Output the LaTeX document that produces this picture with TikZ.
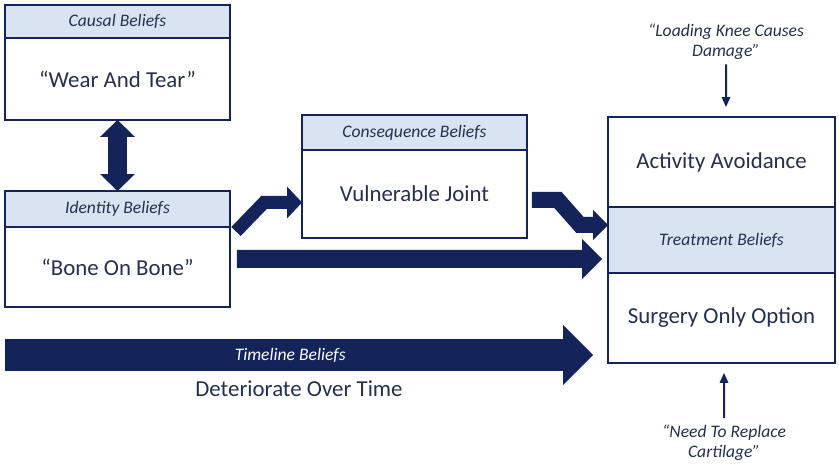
\documentclass[tikz,border=0pt]{standalone}
\usepackage{fontspec}
\setmainfont{Carlito}
\usetikzlibrary{positioning, arrows.meta, calc}
\definecolor{navy}{HTML}{15235B}
\definecolor{inkblue}{HTML}{25304F}
\definecolor{headblue}{HTML}{DAE3F1}

\begin{document}
\begin{tikzpicture}[x=0.02cm, y=-0.02cm, node distance=0pt,
    every node/.style={text=inkblue},
    box/.style={draw=navy, line width=0.055cm, minimum width=4.5cm,
      inner sep=0pt, outer sep=0pt, font=\fontsize{13}{15}\selectfont},
    header/.style={box, fill=headblue, font=\fontsize{10}{12}\selectfont\itshape},
    blockarrow/.style n args={3}{draw=navy, line width=#1,
      -{Triangle[width=#2, length=#3, line width=0pt]}},
    pointer/.style={draw=navy, line width=0.04cm,
      -{Triangle[width=0.18cm, length=0.2cm, line width=0pt]}},
    note/.style={font=\fontsize{10}{11.5}\selectfont\itshape, align=center,
      inner sep=0pt}]

  \useasboundingbox (0,0) rectangle (839,465);

  % Cajas de creencias
  \node[header, minimum height=0.66cm] (causehead) at (117.5,21.5) {Causal Beliefs};
  \node[box, minimum height=1.64cm, below=of causehead] (causebody) {“Wear And Tear”};

  \node[header, minimum height=0.72cm] (idhead) at (117.5,209) {Identity Beliefs};
  \node[box, minimum height=1.6cm, below=of idhead] (idbody) {“Bone On Bone”};

  \node[header, minimum height=0.7cm] (conshead) at (414.5,132.5) {Consequence Beliefs};
  \node[box, minimum height=1.76cm, below=of conshead] (consbody) {Vulnerable Joint};

  \node[box, minimum width=4.54cm, minimum height=1.8cm] (act) at (721.5,162) {Activity Avoidance};
  \node[header, minimum width=4.54cm, minimum height=1.32cm, below=of act] (treathead) {Treatment Beliefs};
  \node[box, minimum width=4.54cm, minimum height=1.8cm, below=of treathead] (surg) {Surgery Only Option};

  % Notas
  \node[note] (load) at (726,42) {“Loading Knee Causes\\Damage”};
  \node[note] (need) at (724,442.5) {“Need To Replace\\Cartilage”};
  \node[font=\fontsize{13}{15}\selectfont] (deter) at (299,389) {Deteriorate Over Time};

  % Flechas
  \draw[draw=navy, line width=0.4cm,
    {Triangle[width=0.7cm, length=0.34cm, line width=0pt]}-{Triangle[width=0.7cm, length=0.34cm, line width=0pt]}]
    (causebody.south) -- (idhead.north);
  \draw[blockarrow={0.26cm}{0.64cm}{0.3cm}]
    ($(idhead.east)+(6,22.5)$) -- ++(28,-29) -- ($(consbody.west)+(0,8.5)$);
  \draw[blockarrow={0.32cm}{0.6cm}{0.3cm}]
    ($(consbody.east)+(5,6)$) -- ++(26,0) -- ++(22,25) -- ($(treathead.north west)+(0,18)$);
  \draw[blockarrow={0.36cm}{0.8cm}{0.4cm}]
    ($(idbody.east)+(7,-8)$) -- ($(treathead.west)+(-6,19)$);

  \coordinate (tlstart) at (5,355);
  \coordinate (tlend) at (593,355);
  \draw[blockarrow={0.64cm}{1.2cm}{0.6cm}] (tlstart) -- (tlend)
    node[pos=0.485, text=white, font=\fontsize{10}{12}\selectfont\itshape] (tltext) {Timeline Beliefs};

  \draw[pointer] ($(load.south)+(0,4)$) -- ($(act.north)+(4.5,-10)$);
  \draw[pointer] ($(need.north)+(0,-6)$) -- ($(surg.south)+(2.5,10)$);

\end{tikzpicture}
\end{document}
